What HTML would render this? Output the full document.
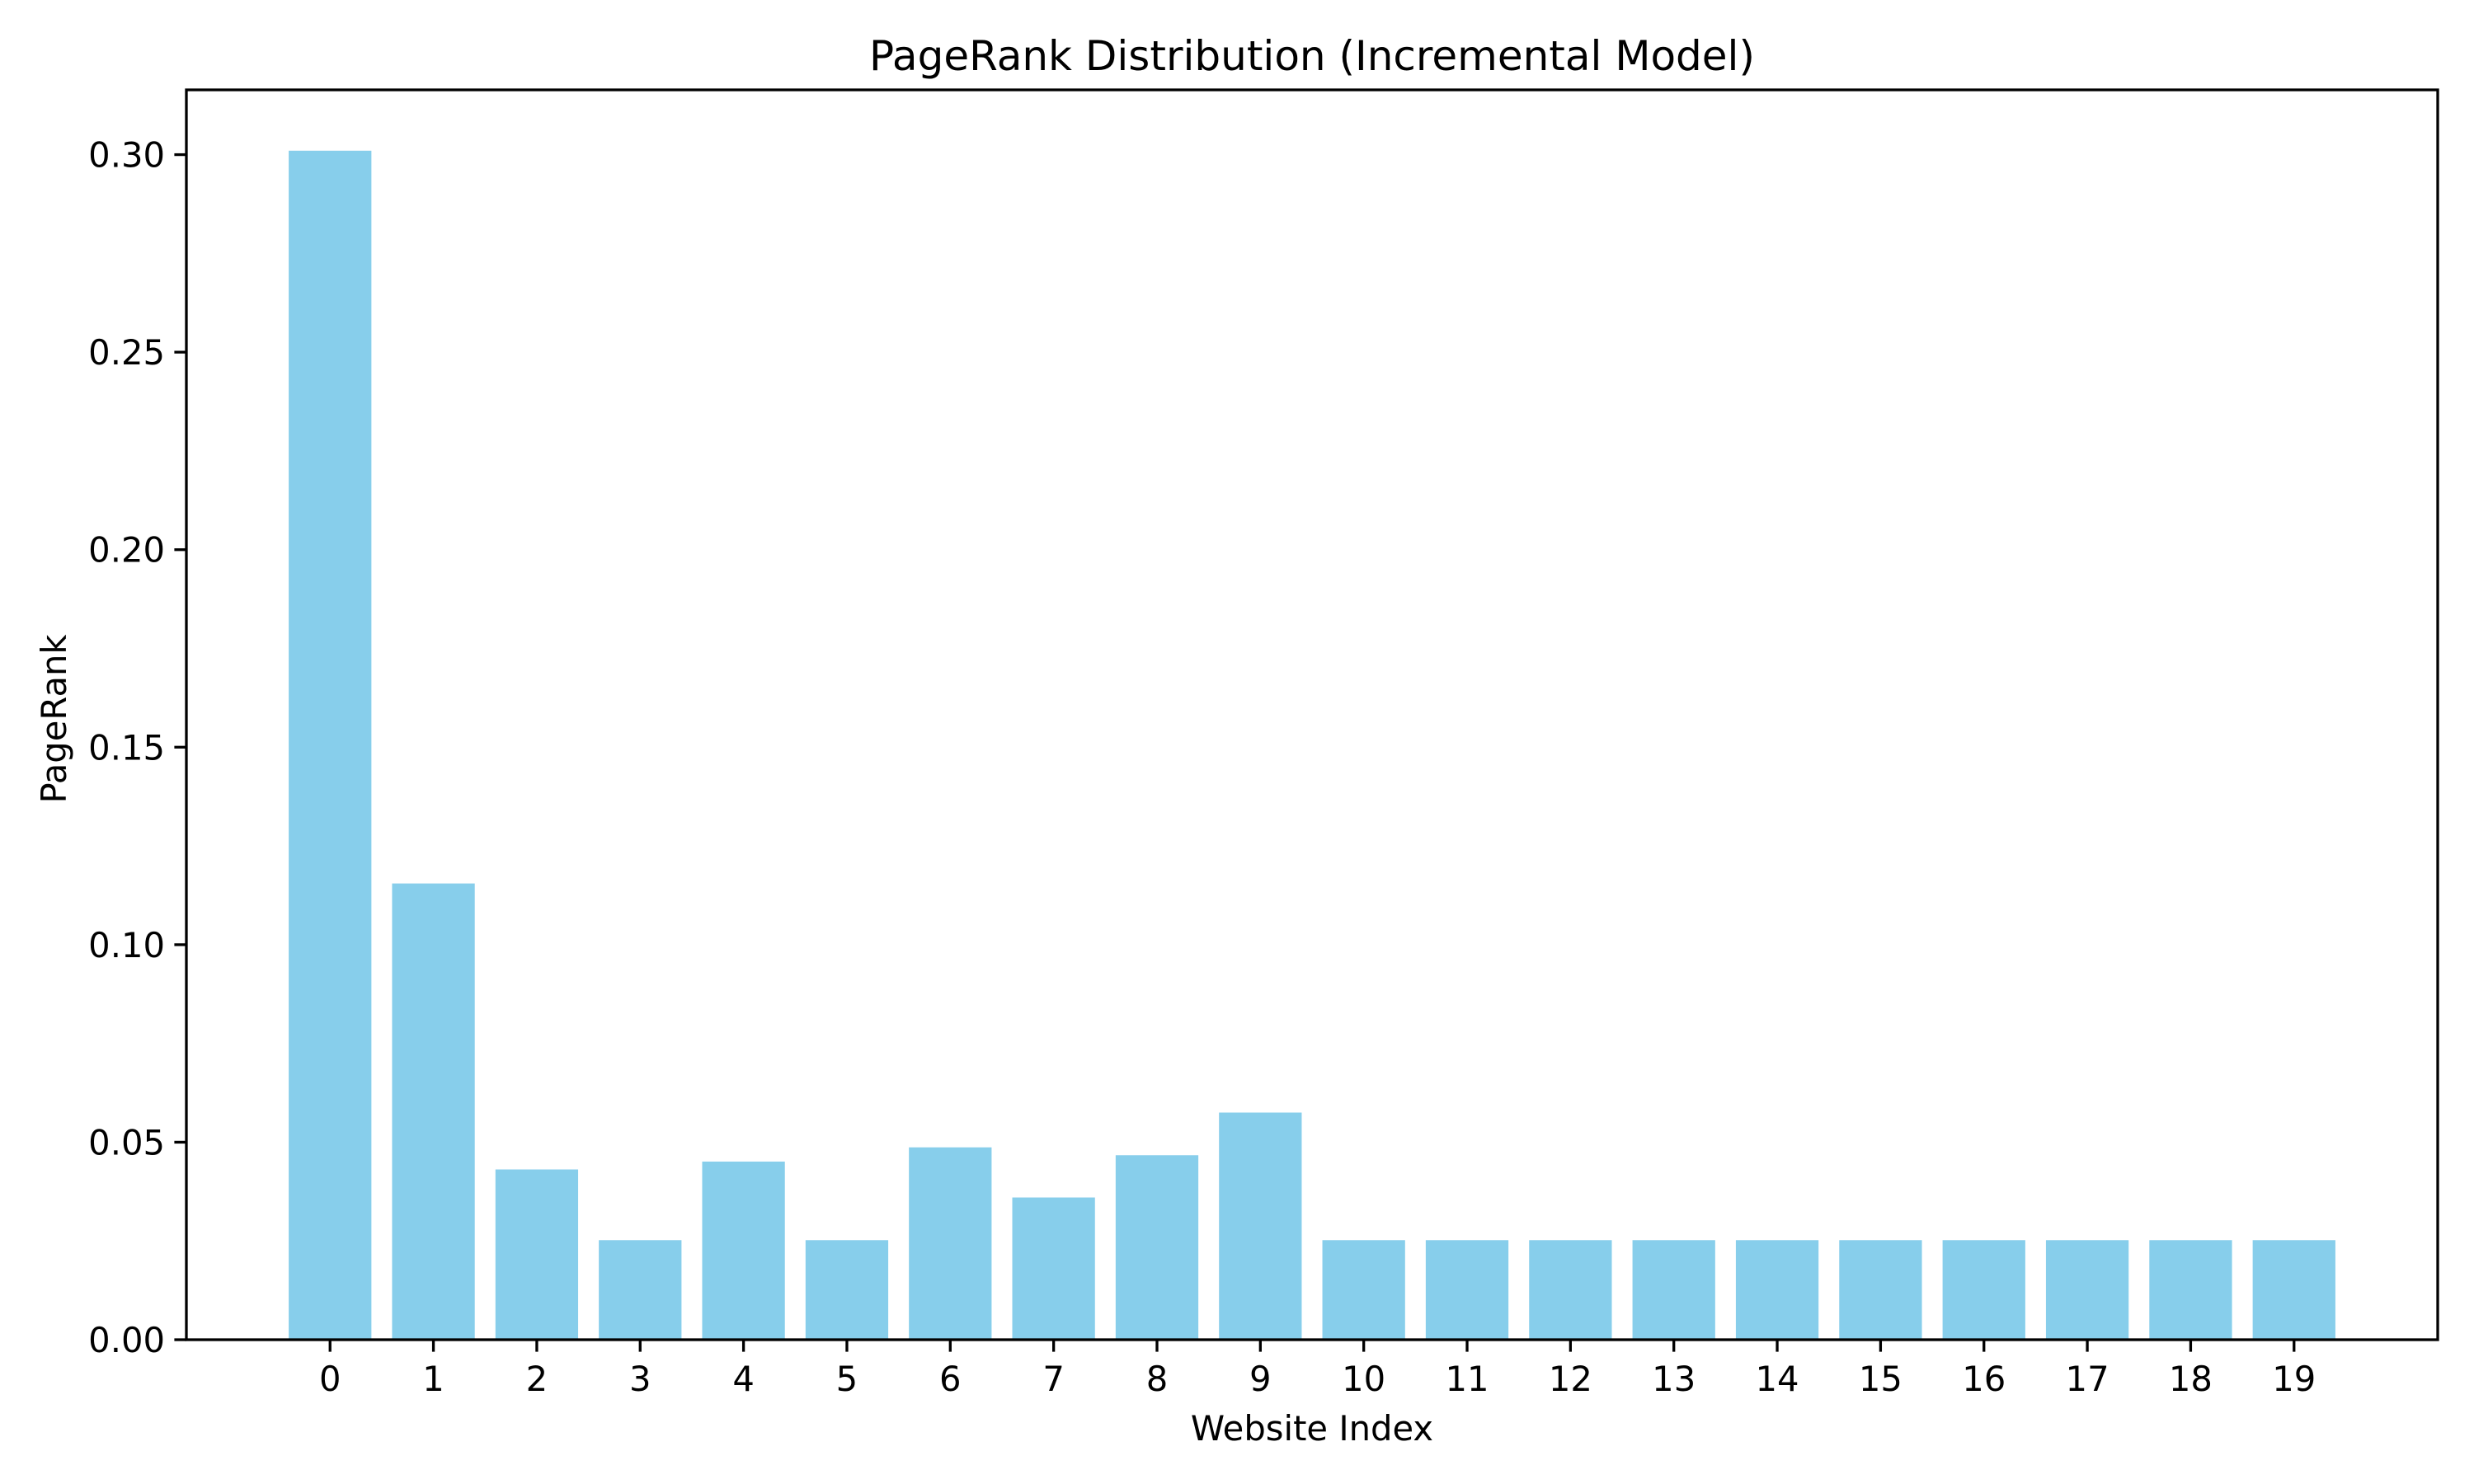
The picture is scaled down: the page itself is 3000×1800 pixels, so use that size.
<!DOCTYPE html>
<html><head><meta charset="utf-8"><style>
html,body{margin:0;padding:0;background:#fff}
svg{display:block;font-family:"DejaVu Sans","Liberation Sans",sans-serif}
</style></head><body>
<svg id="chart" width="3000" height="1800" viewBox="0 0 3000 1800" xmlns="http://www.w3.org/2000/svg">
<rect width="3000" height="1800" fill="#fff"/>
<text x="1591" y="85" font-size="50" text-anchor="middle">PageRank Distribution (Incremental Model)</text>
<text x="1591" y="1747" font-size="41.7" text-anchor="middle">Website Index</text>
<text x="0" y="0" font-size="41.7" text-anchor="middle" transform="translate(80,872) rotate(-90)">PageRank</text>
<g id="bars"></g><g id="xt"></g><g id="yt"></g>
<rect x="226" y="109" width="2730" height="1516" fill="none" stroke="#000" stroke-width="3.3"/>
</svg>
<script>
const categories = ["0","1","2","3","4","5","6","7","8","9","10","11","12","13","14","15","16","17","18","19"];
const values = [0.301,0.1155,0.0431,0.0252,0.0451,0.0252,0.0487,0.036,0.0467,0.0575,0.0252,0.0252,0.0252,0.0252,0.0252,0.0252,0.0252,0.0252,0.0252,0.0252];
const yTicks = [0,0.05,0.10,0.15,0.20,0.25,0.30];
const yTickLabels = ["0.00","0.05","0.10","0.15","0.20","0.25","0.30"];
const L=226,R=2956,T=109,B=1625,ymax=0.3164;
const xmin=-1.39,xmax=categories.length-1+1.39;
const xs=i=>L+(i-xmin)/(xmax-xmin)*(R-L);
const ys=v=>B-v/ymax*(B-T);
const NS="http://www.w3.org/2000/svg";
function mk(t,a,p){const e=document.createElementNS(NS,t);for(const k in a)e.setAttribute(k,a[k]);p.appendChild(e);return e;}
const gb=document.getElementById('bars'),gx=document.getElementById('xt'),gy=document.getElementById('yt');
const w=xs(0.8)-xs(0);
values.forEach((v,i)=>{
  const r=mk('rect',{x:xs(i)-w/2,y:ys(v),width:w,height:ys(0)-ys(v),fill:'#87ceeb'},gb);
  
  
});
categories.forEach((c,i)=>{
  const l=mk('line',{x1:xs(i),x2:xs(i),y1:B,y2:B+14.6,stroke:'#000','stroke-width':3.3},gx);
  
  
  const t=mk('text',{x:xs(i),y:B+62,'font-size':41.7,'text-anchor':'middle'},gx);
  t.textContent=c;
  
  
});
yTicks.forEach((v,i)=>{
  const l=mk('line',{x1:L-14.6,x2:L,y1:ys(v),y2:ys(v),stroke:'#000','stroke-width':3.3},gy);
  
  
  const t=mk('text',{x:L-26,y:ys(v)+15,'font-size':41.7,'text-anchor':'end'},gy);
  t.textContent=yTickLabels[i];
  
  
});
</script>
</body></html>
